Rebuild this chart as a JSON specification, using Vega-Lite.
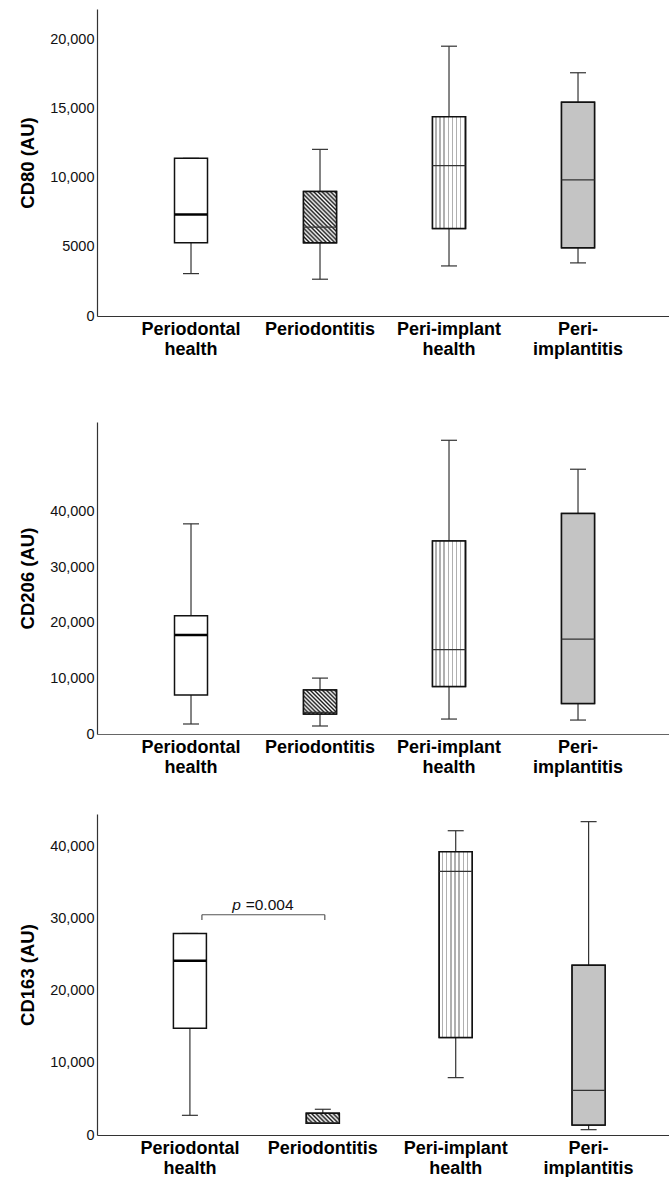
{
  "$schema": "https://vega.github.io/schema/vega-lite/v6.json",
  "padding": {"left": 18, "top": 9, "right": 0, "bottom": 0},
  "config": {
    "view": {"stroke": null},
    "font": "Liberation Sans",
    "axis": {"ticks": false, "grid": false, "domainColor": "#333", "domainWidth": 1.2, "labelFont": "Liberation Sans", "titleFont": "Liberation Sans"},
    "axisY": {"labelFontSize": 14.5, "labelColor": "#111", "labelPadding": 3, "titleFontSize": 18.5, "titleFontWeight": "bold", "titleColor": "#000", "titlePadding": 12},
    "axisX": {"labelFontSize": 18, "labelFontWeight": "bold", "labelColor": "#000", "labelLineHeight": 20, "labelPadding": 4, "labelAngle": 0}
  },
  "datasets": {
    "cd80": [
      {"g": "Periodontal health", "lo": 3065, "q1": 5290, "median": 7340, "q3": 11400, "hi": 11400},
      {"g": "Periodontitis", "lo": 2660, "q1": 5290, "median": 6430, "q3": 9010, "hi": 12050},
      {"g": "Peri-implant health", "lo": 3620, "q1": 6330, "median": 10870, "q3": 14400, "hi": 19510},
      {"g": "Peri-implantitis", "lo": 3840, "q1": 4930, "median": 9850, "q3": 15460, "hi": 17590}
    ],
    "cd206": [
      {"g": "Periodontal health", "lo": 1800, "q1": 7000, "median": 17830, "q3": 21300, "hi": 37820},
      {"g": "Periodontitis", "lo": 1440, "q1": 3590, "median": 3900, "q3": 7900, "hi": 10060},
      {"g": "Peri-implant health", "lo": 2690, "q1": 8560, "median": 15200, "q3": 34720, "hi": 52860},
      {"g": "Peri-implantitis", "lo": 2510, "q1": 5500, "median": 17060, "q3": 39690, "hi": 47650}
    ],
    "cd163": [
      {"g": "Periodontal health", "lo": 2730, "q1": 14820, "median": 24170, "q3": 27960, "hi": 27960},
      {"g": "Periodontitis", "lo": 1625, "q1": 1625, "median": 1700, "q3": 3010, "hi": 3570},
      {"g": "Peri-implant health", "lo": 7960, "q1": 13520, "median": 36580, "q3": 39310, "hi": 42220},
      {"g": "Peri-implantitis", "lo": 740, "q1": 1390, "median": 6200, "q3": 23570, "hi": 43480}
    ],
    "pval": [
      {"from": "Periodontal health", "to": "Periodontitis", "p": "p", "rest": "=0.004"}
    ]
  },
  "spacing": 64,
  "vconcat": [
    {
      "width": 572, "height": 307,
      "data": {"name": "cd80"},
      "encoding": {"x": {"field": "g", "type": "nominal", "title": null,
        "scale": {"domain": ["Periodontal health", "Periodontitis", "Peri-implant health", "Peri-implantitis"], "paddingInner": 0, "paddingOuter": 0.217, "align": 0.527},
        "axis": {"labelExpr": "datum.label == 'Peri-implantitis' ? ['Peri-', 'implantitis'] : split(datum.label, ' ')"}}},
      "layer": [
        {"mark": {"type": "rule", "color": "#333", "strokeWidth": 1.2, "opacity": 1},
         "encoding": {"y": {"field": "lo", "type": "quantitative", "scale": {"domain": [0, 22200], "nice": false},
           "axis": {"title": "CD80 (AU)", "values": [0, 5000, 10000, 15000, 20000], "labelExpr": "datum.value >= 10000 ? format(datum.value, ',') : format(datum.value, 'd')"}},
           "y2": {"field": "hi"}}},
        {"mark": {"type": "tick", "color": "#333", "size": 16, "thickness": 1.2, "opacity": 1}, "encoding": {"y": {"field": "lo", "type": "quantitative"}}},
        {"mark": {"type": "tick", "color": "#333", "size": 16, "thickness": 1.2, "opacity": 1}, "encoding": {"y": {"field": "hi", "type": "quantitative"}}},
        {"mark": {"type": "bar", "size": 33, "fill": "#ffffff", "stroke": "#111", "strokeWidth": 1.5, "opacity": 1},
         "encoding": {"y": {"field": "q1", "type": "quantitative"}, "y2": {"field": "q3"}}},
        {"transform": [{"filter": "datum.g === 'Periodontitis'"}],
         "mark": {"type": "bar", "size": 33, "stroke": "#111", "strokeWidth": 1.5, "opacity": 1,
           "fill": {"gradient": "linear", "x1": 0, "y1": 1, "x2": 0.748, "y2": -0.162, "stops": [
             {"offset": 0, "color": "#ffffff"}, {"offset": 0.025, "color": "#1a1a1a"}, {"offset": 0.05, "color": "#ffffff"}, {"offset": 0.075, "color": "#1a1a1a"},
             {"offset": 0.1, "color": "#ffffff"}, {"offset": 0.125, "color": "#1a1a1a"}, {"offset": 0.15, "color": "#ffffff"}, {"offset": 0.175, "color": "#1a1a1a"},
             {"offset": 0.2, "color": "#ffffff"}, {"offset": 0.225, "color": "#1a1a1a"}, {"offset": 0.25, "color": "#ffffff"}, {"offset": 0.275, "color": "#1a1a1a"},
             {"offset": 0.3, "color": "#ffffff"}, {"offset": 0.325, "color": "#1a1a1a"}, {"offset": 0.35, "color": "#ffffff"}, {"offset": 0.375, "color": "#1a1a1a"},
             {"offset": 0.4, "color": "#ffffff"}, {"offset": 0.425, "color": "#1a1a1a"}, {"offset": 0.45, "color": "#ffffff"}, {"offset": 0.475, "color": "#1a1a1a"},
             {"offset": 0.5, "color": "#ffffff"}, {"offset": 0.525, "color": "#1a1a1a"}, {"offset": 0.55, "color": "#ffffff"}, {"offset": 0.575, "color": "#1a1a1a"},
             {"offset": 0.6, "color": "#ffffff"}, {"offset": 0.625, "color": "#1a1a1a"}, {"offset": 0.65, "color": "#ffffff"}, {"offset": 0.675, "color": "#1a1a1a"},
             {"offset": 0.7, "color": "#ffffff"}, {"offset": 0.725, "color": "#1a1a1a"}, {"offset": 0.75, "color": "#ffffff"}, {"offset": 0.775, "color": "#1a1a1a"},
             {"offset": 0.8, "color": "#ffffff"}, {"offset": 0.825, "color": "#1a1a1a"}, {"offset": 0.85, "color": "#ffffff"}, {"offset": 0.875, "color": "#1a1a1a"},
             {"offset": 0.9, "color": "#ffffff"}, {"offset": 0.925, "color": "#1a1a1a"}, {"offset": 0.95, "color": "#ffffff"}, {"offset": 0.975, "color": "#1a1a1a"},
             {"offset": 1, "color": "#ffffff"}]}},
         "encoding": {"y": {"field": "q1", "type": "quantitative"}, "y2": {"field": "q3"}}},
        {"transform": [{"filter": "datum.g === 'Peri-implant health'"}],
         "mark": {"type": "bar", "size": 33, "stroke": "#111", "strokeWidth": 1.5, "opacity": 1,
           "fill": {"gradient": "linear", "x1": 0, "y1": 0, "x2": 1, "y2": 0, "stops": [
             {"offset": 0, "color": "#ffffff"}, {"offset": 0.0813, "color": "#ffffff"}, {"offset": 0.0813, "color": "#b0b0b0"}, {"offset": 0.125, "color": "#b0b0b0"},
             {"offset": 0.125, "color": "#ffffff"}, {"offset": 0.2063, "color": "#ffffff"}, {"offset": 0.2063, "color": "#b0b0b0"}, {"offset": 0.25, "color": "#b0b0b0"},
             {"offset": 0.25, "color": "#ffffff"}, {"offset": 0.3313, "color": "#ffffff"}, {"offset": 0.3313, "color": "#b0b0b0"}, {"offset": 0.375, "color": "#b0b0b0"},
             {"offset": 0.375, "color": "#ffffff"}, {"offset": 0.4563, "color": "#ffffff"}, {"offset": 0.4563, "color": "#b0b0b0"}, {"offset": 0.5, "color": "#b0b0b0"},
             {"offset": 0.5, "color": "#ffffff"}, {"offset": 0.5813, "color": "#ffffff"}, {"offset": 0.5813, "color": "#b0b0b0"}, {"offset": 0.625, "color": "#b0b0b0"},
             {"offset": 0.625, "color": "#ffffff"}, {"offset": 0.7063, "color": "#ffffff"}, {"offset": 0.7063, "color": "#b0b0b0"}, {"offset": 0.75, "color": "#b0b0b0"},
             {"offset": 0.75, "color": "#ffffff"}, {"offset": 0.8313, "color": "#ffffff"}, {"offset": 0.8313, "color": "#b0b0b0"}, {"offset": 0.875, "color": "#b0b0b0"},
             {"offset": 0.875, "color": "#ffffff"}, {"offset": 0.9563, "color": "#ffffff"}, {"offset": 0.9563, "color": "#b0b0b0"}, {"offset": 1, "color": "#b0b0b0"}]}},
         "encoding": {"y": {"field": "q1", "type": "quantitative"}, "y2": {"field": "q3"}}},
        {"transform": [{"filter": "datum.g === 'Peri-implantitis'"}],
         "mark": {"type": "bar", "size": 33, "fill": "#c4c4c4", "stroke": "#111", "strokeWidth": 1.5, "opacity": 1},
         "encoding": {"y": {"field": "q1", "type": "quantitative"}, "y2": {"field": "q3"}}},
        {"mark": {"type": "tick", "color": "#333", "size": 33, "thickness": 1.2, "opacity": 1}, "encoding": {"y": {"field": "median", "type": "quantitative"}}},
        {"transform": [{"filter": "datum.g === 'Periodontal health'"}],
         "mark": {"type": "tick", "color": "#000", "size": 33, "thickness": 2.5, "opacity": 1}, "encoding": {"y": {"field": "median", "type": "quantitative"}}}
      ]
    },
    {
      "spacing": 38,
      "vconcat": [
        {
          "width": 572, "height": 312,
          "data": {"name": "cd206"},
          "encoding": {"x": {"field": "g", "type": "nominal", "title": null,
            "scale": {"domain": ["Periodontal health", "Periodontitis", "Peri-implant health", "Peri-implantitis"], "paddingInner": 0, "paddingOuter": 0.217, "align": 0.527},
            "axis": {"labelExpr": "datum.label == 'Peri-implantitis' ? ['Peri-', 'implantitis'] : split(datum.label, ' ')", "domainColor": "#666"}}},
          "layer": [
            {"mark": {"type": "rule", "color": "#333", "strokeWidth": 1.2, "opacity": 1},
             "encoding": {"y": {"field": "lo", "type": "quantitative", "scale": {"domain": [0, 56150], "nice": false},
               "axis": {"title": "CD206 (AU)", "values": [0, 10000, 20000, 30000, 40000], "labelExpr": "datum.value >= 10000 ? format(datum.value, ',') : format(datum.value, 'd')"}},
               "y2": {"field": "hi"}}},
            {"mark": {"type": "tick", "color": "#333", "size": 16, "thickness": 1.2, "opacity": 1}, "encoding": {"y": {"field": "lo", "type": "quantitative"}}},
            {"mark": {"type": "tick", "color": "#333", "size": 16, "thickness": 1.2, "opacity": 1}, "encoding": {"y": {"field": "hi", "type": "quantitative"}}},
            {"mark": {"type": "bar", "size": 33, "fill": "#ffffff", "stroke": "#111", "strokeWidth": 1.5, "opacity": 1},
             "encoding": {"y": {"field": "q1", "type": "quantitative"}, "y2": {"field": "q3"}}},
            {"transform": [{"filter": "datum.g === 'Periodontitis'"}],
             "mark": {"type": "bar", "size": 33, "stroke": "#111", "strokeWidth": 1.5, "opacity": 1,
               "fill": {"gradient": "linear", "x1": 0, "y1": 1, "x2": 1.13, "y2": 0.178, "stops": [
                 {"offset": 0, "color": "#ffffff"}, {"offset": 0.0357, "color": "#1a1a1a"}, {"offset": 0.0714, "color": "#ffffff"}, {"offset": 0.1071, "color": "#1a1a1a"},
                 {"offset": 0.1429, "color": "#ffffff"}, {"offset": 0.1786, "color": "#1a1a1a"}, {"offset": 0.2143, "color": "#ffffff"}, {"offset": 0.25, "color": "#1a1a1a"},
                 {"offset": 0.2857, "color": "#ffffff"}, {"offset": 0.3214, "color": "#1a1a1a"}, {"offset": 0.3571, "color": "#ffffff"}, {"offset": 0.3929, "color": "#1a1a1a"},
                 {"offset": 0.4286, "color": "#ffffff"}, {"offset": 0.4643, "color": "#1a1a1a"}, {"offset": 0.5, "color": "#ffffff"}, {"offset": 0.5357, "color": "#1a1a1a"},
                 {"offset": 0.5714, "color": "#ffffff"}, {"offset": 0.6071, "color": "#1a1a1a"}, {"offset": 0.6429, "color": "#ffffff"}, {"offset": 0.6786, "color": "#1a1a1a"},
                 {"offset": 0.7143, "color": "#ffffff"}, {"offset": 0.75, "color": "#1a1a1a"}, {"offset": 0.7857, "color": "#ffffff"}, {"offset": 0.8214, "color": "#1a1a1a"},
                 {"offset": 0.8571, "color": "#ffffff"}, {"offset": 0.8929, "color": "#1a1a1a"}, {"offset": 0.9286, "color": "#ffffff"}, {"offset": 0.9643, "color": "#1a1a1a"},
                 {"offset": 1, "color": "#ffffff"}]}},
             "encoding": {"y": {"field": "q1", "type": "quantitative"}, "y2": {"field": "q3"}}},
            {"transform": [{"filter": "datum.g === 'Peri-implant health'"}],
             "mark": {"type": "bar", "size": 33, "stroke": "#111", "strokeWidth": 1.5, "opacity": 1,
               "fill": {"gradient": "linear", "x1": 0, "y1": 0, "x2": 1, "y2": 0, "stops": [
                 {"offset": 0, "color": "#ffffff"}, {"offset": 0.0813, "color": "#ffffff"}, {"offset": 0.0813, "color": "#b0b0b0"}, {"offset": 0.125, "color": "#b0b0b0"},
                 {"offset": 0.125, "color": "#ffffff"}, {"offset": 0.2063, "color": "#ffffff"}, {"offset": 0.2063, "color": "#b0b0b0"}, {"offset": 0.25, "color": "#b0b0b0"},
                 {"offset": 0.25, "color": "#ffffff"}, {"offset": 0.3313, "color": "#ffffff"}, {"offset": 0.3313, "color": "#b0b0b0"}, {"offset": 0.375, "color": "#b0b0b0"},
                 {"offset": 0.375, "color": "#ffffff"}, {"offset": 0.4563, "color": "#ffffff"}, {"offset": 0.4563, "color": "#b0b0b0"}, {"offset": 0.5, "color": "#b0b0b0"},
                 {"offset": 0.5, "color": "#ffffff"}, {"offset": 0.5813, "color": "#ffffff"}, {"offset": 0.5813, "color": "#b0b0b0"}, {"offset": 0.625, "color": "#b0b0b0"},
                 {"offset": 0.625, "color": "#ffffff"}, {"offset": 0.7063, "color": "#ffffff"}, {"offset": 0.7063, "color": "#b0b0b0"}, {"offset": 0.75, "color": "#b0b0b0"},
                 {"offset": 0.75, "color": "#ffffff"}, {"offset": 0.8313, "color": "#ffffff"}, {"offset": 0.8313, "color": "#b0b0b0"}, {"offset": 0.875, "color": "#b0b0b0"},
                 {"offset": 0.875, "color": "#ffffff"}, {"offset": 0.9563, "color": "#ffffff"}, {"offset": 0.9563, "color": "#b0b0b0"}, {"offset": 1, "color": "#b0b0b0"}]}},
             "encoding": {"y": {"field": "q1", "type": "quantitative"}, "y2": {"field": "q3"}}},
            {"transform": [{"filter": "datum.g === 'Peri-implantitis'"}],
             "mark": {"type": "bar", "size": 33, "fill": "#c4c4c4", "stroke": "#111", "strokeWidth": 1.5, "opacity": 1},
             "encoding": {"y": {"field": "q1", "type": "quantitative"}, "y2": {"field": "q3"}}},
            {"mark": {"type": "tick", "color": "#333", "size": 33, "thickness": 1.2, "opacity": 1}, "encoding": {"y": {"field": "median", "type": "quantitative"}}},
            {"transform": [{"filter": "datum.g === 'Periodontal health'"}],
             "mark": {"type": "tick", "color": "#000", "size": 33, "thickness": 2.5, "opacity": 1}, "encoding": {"y": {"field": "median", "type": "quantitative"}}}
          ]
        },
        {
          "width": 572, "height": 321,
          "layer": [
            {
              "data": {"name": "cd163"},
              "encoding": {"x": {"field": "g", "type": "nominal", "title": null,
                "scale": {"domain": ["Periodontal health", "Periodontitis", "Peri-implant health", "Peri-implantitis"], "paddingInner": 0, "paddingOuter": 0.152, "align": 0.655},
                "axis": {"labelExpr": "datum.label == 'Peri-implantitis' ? ['Peri-', 'implantitis'] : split(datum.label, ' ')"}}},
              "layer": [
                {"mark": {"type": "rule", "color": "#333", "strokeWidth": 1.2, "opacity": 1},
                 "encoding": {"y": {"field": "lo", "type": "quantitative", "scale": {"domain": [0, 44540], "nice": false},
                   "axis": {"title": "CD163 (AU)", "values": [0, 10000, 20000, 30000, 40000], "labelExpr": "datum.value >= 10000 ? format(datum.value, ',') : format(datum.value, 'd')"}},
                   "y2": {"field": "hi"}}},
                {"mark": {"type": "tick", "color": "#333", "size": 16, "thickness": 1.2, "opacity": 1}, "encoding": {"y": {"field": "lo", "type": "quantitative"}}},
                {"mark": {"type": "tick", "color": "#333", "size": 16, "thickness": 1.2, "opacity": 1}, "encoding": {"y": {"field": "hi", "type": "quantitative"}}},
                {"mark": {"type": "bar", "size": 33, "fill": "#ffffff", "stroke": "#111", "strokeWidth": 1.5, "opacity": 1},
                 "encoding": {"y": {"field": "q1", "type": "quantitative"}, "y2": {"field": "q3"}}},
                {"transform": [{"filter": "datum.g === 'Periodontitis'"}],
                 "mark": {"type": "bar", "size": 33, "stroke": "#111", "strokeWidth": 1.5, "opacity": 1,
                   "fill": {"gradient": "linear", "x1": 0, "y1": 1, "x2": 1.193, "y2": 0.638, "stops": [
                     {"offset": 0, "color": "#ffffff"}, {"offset": 0.05, "color": "#1a1a1a"}, {"offset": 0.1, "color": "#ffffff"}, {"offset": 0.15, "color": "#1a1a1a"},
                     {"offset": 0.2, "color": "#ffffff"}, {"offset": 0.25, "color": "#1a1a1a"}, {"offset": 0.3, "color": "#ffffff"}, {"offset": 0.35, "color": "#1a1a1a"},
                     {"offset": 0.4, "color": "#ffffff"}, {"offset": 0.45, "color": "#1a1a1a"}, {"offset": 0.5, "color": "#ffffff"}, {"offset": 0.55, "color": "#1a1a1a"},
                     {"offset": 0.6, "color": "#ffffff"}, {"offset": 0.65, "color": "#1a1a1a"}, {"offset": 0.7, "color": "#ffffff"}, {"offset": 0.75, "color": "#1a1a1a"},
                     {"offset": 0.8, "color": "#ffffff"}, {"offset": 0.85, "color": "#1a1a1a"}, {"offset": 0.9, "color": "#ffffff"}, {"offset": 0.95, "color": "#1a1a1a"},
                     {"offset": 1, "color": "#ffffff"}]}},
                 "encoding": {"y": {"field": "q1", "type": "quantitative"}, "y2": {"field": "q3"}}},
                {"transform": [{"filter": "datum.g === 'Peri-implant health'"}],
                 "mark": {"type": "bar", "size": 33, "stroke": "#111", "strokeWidth": 1.5, "opacity": 1,
                   "fill": {"gradient": "linear", "x1": 0, "y1": 0, "x2": 1, "y2": 0, "stops": [
                     {"offset": 0, "color": "#ffffff"}, {"offset": 0.0813, "color": "#ffffff"}, {"offset": 0.0813, "color": "#b0b0b0"}, {"offset": 0.125, "color": "#b0b0b0"},
                     {"offset": 0.125, "color": "#ffffff"}, {"offset": 0.2063, "color": "#ffffff"}, {"offset": 0.2063, "color": "#b0b0b0"}, {"offset": 0.25, "color": "#b0b0b0"},
                     {"offset": 0.25, "color": "#ffffff"}, {"offset": 0.3313, "color": "#ffffff"}, {"offset": 0.3313, "color": "#b0b0b0"}, {"offset": 0.375, "color": "#b0b0b0"},
                     {"offset": 0.375, "color": "#ffffff"}, {"offset": 0.4563, "color": "#ffffff"}, {"offset": 0.4563, "color": "#b0b0b0"}, {"offset": 0.5, "color": "#b0b0b0"},
                     {"offset": 0.5, "color": "#ffffff"}, {"offset": 0.5813, "color": "#ffffff"}, {"offset": 0.5813, "color": "#b0b0b0"}, {"offset": 0.625, "color": "#b0b0b0"},
                     {"offset": 0.625, "color": "#ffffff"}, {"offset": 0.7063, "color": "#ffffff"}, {"offset": 0.7063, "color": "#b0b0b0"}, {"offset": 0.75, "color": "#b0b0b0"},
                     {"offset": 0.75, "color": "#ffffff"}, {"offset": 0.8313, "color": "#ffffff"}, {"offset": 0.8313, "color": "#b0b0b0"}, {"offset": 0.875, "color": "#b0b0b0"},
                     {"offset": 0.875, "color": "#ffffff"}, {"offset": 0.9563, "color": "#ffffff"}, {"offset": 0.9563, "color": "#b0b0b0"}, {"offset": 1, "color": "#b0b0b0"}]}},
                 "encoding": {"y": {"field": "q1", "type": "quantitative"}, "y2": {"field": "q3"}}},
                {"transform": [{"filter": "datum.g === 'Peri-implantitis'"}],
                 "mark": {"type": "bar", "size": 33, "fill": "#c4c4c4", "stroke": "#111", "strokeWidth": 1.5, "opacity": 1},
                 "encoding": {"y": {"field": "q1", "type": "quantitative"}, "y2": {"field": "q3"}}},
                {"mark": {"type": "tick", "color": "#333", "size": 33, "thickness": 1.2, "opacity": 1}, "encoding": {"y": {"field": "median", "type": "quantitative"}}},
                {"transform": [{"filter": "datum.g === 'Periodontal health'"}],
                 "mark": {"type": "tick", "color": "#000", "size": 33, "thickness": 2.5, "opacity": 1}, "encoding": {"y": {"field": "median", "type": "quantitative"}}}
              ]
            },
            {
              "data": {"name": "pval"},
              "layer": [
                {"mark": {"type": "rule", "color": "#555", "strokeWidth": 1.2, "xOffset": 12, "x2Offset": 2},
                 "encoding": {"x": {"field": "from", "type": "nominal"}, "x2": {"field": "to"}, "y": {"datum": 30560}}},
                {"mark": {"type": "rule", "color": "#555", "strokeWidth": 1.2, "xOffset": 12},
                 "encoding": {"x": {"field": "from", "type": "nominal"}, "y": {"datum": 30560}, "y2": {"datum": 29820}}},
                {"mark": {"type": "rule", "color": "#555", "strokeWidth": 1.2, "xOffset": 2},
                 "encoding": {"x": {"field": "to", "type": "nominal"}, "y": {"datum": 30560}, "y2": {"datum": 29820}}},
                {"mark": {"type": "text", "fontSize": 15.5, "fontStyle": "italic", "align": "left", "baseline": "alphabetic", "dx": -24, "color": "#111"},
                 "encoding": {"x": {"field": "from", "type": "nominal", "bandPosition": 1}, "y": {"datum": 31210}, "text": {"field": "p"}}},
                {"mark": {"type": "text", "fontSize": 15.5, "align": "left", "baseline": "alphabetic", "dx": -10.7, "color": "#111"},
                 "encoding": {"x": {"field": "from", "type": "nominal", "bandPosition": 1}, "y": {"datum": 31210}, "text": {"field": "rest"}}}
              ]
            }
          ]
        }
      ]
    }
  ]
}
